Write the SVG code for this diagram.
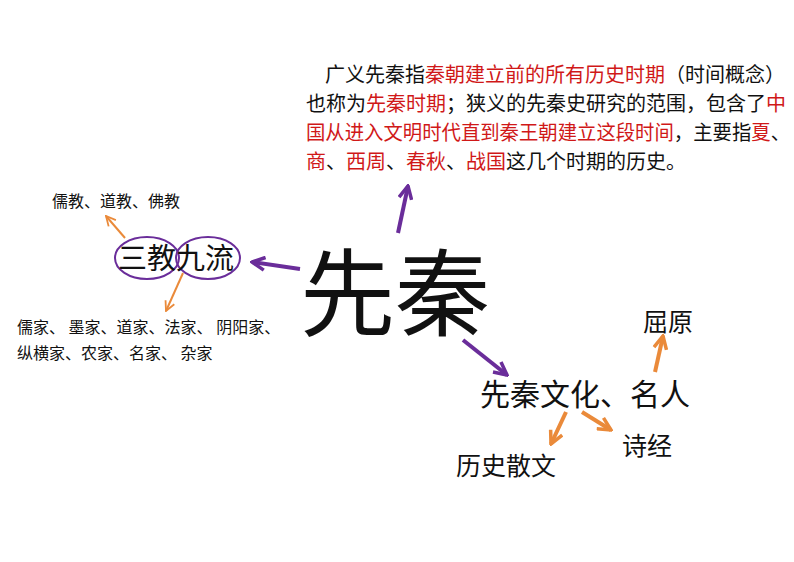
<svg xmlns="http://www.w3.org/2000/svg" width="794" height="562" viewBox="0 0 794 562">
<style>
text{font-family:"Noto Sans CJK SC","Noto Sans",sans-serif;fill:#111}
.r{fill:#d01818}
.p{stroke:#6a2d9a;stroke-width:4;fill:none}
.o{stroke:#ea8a3a;stroke-width:4;fill:none}
.o2{stroke:#ea8a3a;stroke-width:2;fill:none}
</style>
<defs>
<marker id="mp" viewBox="0 0 10 10" refX="9" refY="5" markerWidth="4" markerHeight="4" orient="auto" markerUnits="strokeWidth"><path d="M1,1 L9,5 L1,9" fill="none" stroke="#6a2d9a" stroke-width="2.2"/></marker>
<marker id="mo" viewBox="0 0 10 10" refX="9" refY="5" markerWidth="4" markerHeight="4" orient="auto" markerUnits="strokeWidth"><path d="M1,1 L9,5 L1,9" fill="none" stroke="#ea8a3a" stroke-width="2.2"/></marker>
<marker id="mo2" viewBox="0 0 10 10" refX="9" refY="5" markerWidth="6" markerHeight="6" orient="auto" markerUnits="strokeWidth"><path d="M1,1 L9,5 L1,9" fill="none" stroke="#ea8a3a" stroke-width="1.5"/></marker>
</defs>
<rect width="794" height="562" fill="#fff"/>
<g id="connectors">
<line class="p" x1="398" y1="233" x2="408" y2="186" marker-end="url(#mp)"/>
<line class="p" x1="300" y1="269" x2="252" y2="262" marker-end="url(#mp)"/>
<line class="p" x1="463" y1="340" x2="507" y2="375" marker-end="url(#mp)"/>
<line class="o2" x1="125" y1="238" x2="106" y2="216" marker-end="url(#mo2)"/>
<line class="o2" x1="183" y1="273" x2="166" y2="311" marker-end="url(#mo2)"/>
<line class="o" x1="566" y1="412" x2="551" y2="444" marker-end="url(#mo)"/>
<line class="o" x1="582" y1="412" x2="611" y2="430" marker-end="url(#mo)"/>
<line class="o" x1="655" y1="372" x2="663" y2="336" marker-end="url(#mo)"/>
</g>
<g id="main"><text x="300" y="329" font-size="95">先秦</text></g>
<g id="desc" font-size="20">
<text x="325" y="82">广义先秦指<tspan class="r">秦朝建立前的所有历史时期</tspan>（时间概念）</text>
<text x="306" y="111">也称为<tspan class="r">先秦时期</tspan>；狭义的先秦史研究的范围，包含了<tspan class="r">中</tspan></text>
<text x="306" y="140" textLength="484" lengthAdjust="spacingAndGlyphs"><tspan class="r">国从进入文明时代直到秦王朝建立这段时间</tspan>，主要指<tspan class="r">夏</tspan>、</text>
<text x="306" y="169"><tspan class="r">商</tspan>、<tspan class="r">西周</tspan>、<tspan class="r">春秋</tspan>、<tspan class="r">战国</tspan>这几个时期的历史。</text>
</g>
<g id="sanjiao">
<ellipse cx="147" cy="258" rx="32" ry="21" fill="none" stroke="#6a2d9a" stroke-width="2"/>
<ellipse cx="208" cy="258" rx="32" ry="21" fill="none" stroke="#6a2d9a" stroke-width="2"/>
<text x="118" y="269" font-size="29">三教九流</text>
</g>
<g id="sanjiao-items"><text x="52" y="207" font-size="16">儒教、道教、佛教</text></g>
<g id="jiuliu-items" font-size="16">
<text x="17" y="333">儒家、 墨家、道家、法家、 阴阳家、</text>
<text x="17" y="359">纵横家、农家、名家、 杂家</text>
</g>
<g id="wenhua"><text x="480" y="405" font-size="30">先秦文化、名人</text></g>
<g id="quyuan"><text x="643" y="331" font-size="25">屈原</text></g>
<g id="shijing"><text x="622" y="455" font-size="25">诗经</text></g>
<g id="sanwen"><text x="456" y="475" font-size="25">历史散文</text></g>
</svg>
